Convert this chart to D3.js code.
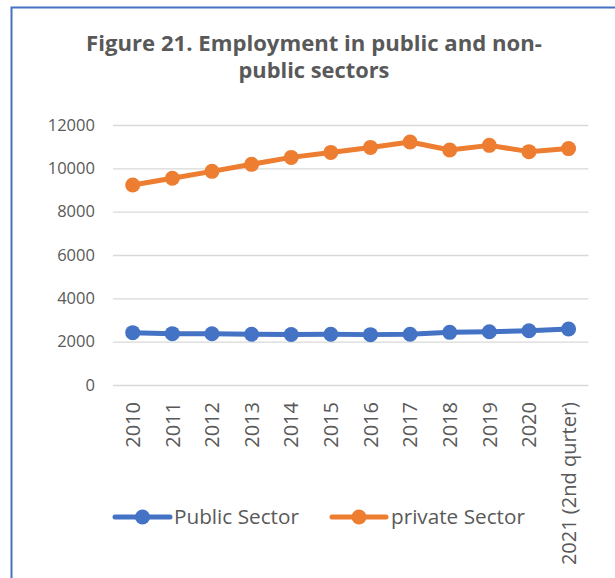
<!DOCTYPE html>
<html>
<head>
<meta charset="utf-8">
<script src="https://cdn.jsdelivr.net/npm/d3@7"></script>
<style>
  html, body { margin: 0; padding: 0; background: #ffffff; }
  svg { display: block; }
  text { font-family: "Open Sans", "Liberation Sans", sans-serif; }
</style>
</head>
<body>
<svg id="chart" width="615" height="578"></svg>
<script>
// Employment (thousands) by sector, 2010 to 2021 Q2
const categories = ["2010", "2011", "2012", "2013", "2014", "2015", "2016", "2017", "2018", "2019", "2020", "2021 (2nd qurter)"];
const publicSector = [2415, 2370, 2365, 2340, 2330, 2340, 2325, 2340, 2430, 2460, 2505, 2585];
const privateSector = [9230, 9540, 9860, 10185, 10505, 10735, 10965, 11215, 10845, 11060, 10770, 10910];
const yTicks = [0, 2000, 4000, 6000, 8000, 10000, 12000];
const titleLines = ["Figure 21. Employment in public and non-", "public sectors"];
const seriesNames = ["Public Sector", "private Sector"];

const colors = { pub: "#4472C4", priv: "#ED7D31", text: "#595959", grid: "#D9D9D9", frame: "#4472C4" };

const svg = d3.select("#chart");

// chart frame (left and top edges visible)
svg.append("path")
  .attr("d", "M11.5,578 L11.5,7.5 L615,7.5")
  .attr("fill", "none")
  .attr("stroke", colors.frame)
  .attr("stroke-width", 2);

// title, two centred lines fitted to width
const titleWidths = [456, 151];
const titleBaselines = [51, 77.5];
titleLines.forEach((line, i) => {
  const t = svg.append("text")
    .attr("x", 314)
    .attr("y", titleBaselines[i])
    .attr("text-anchor", "middle")
    .attr("font-weight", "bold")
    .attr("font-size", 20)
    .attr("fill", colors.text)
    .text(line);
  const w = t.node().getComputedTextLength();
  t.attr("font-size", 20 * titleWidths[i] / w);
});

const plot = { left: 112.9, right: 588.4, top: 125, bottom: 385 };

const x = d3.scaleBand().domain(categories).range([plot.left, plot.right]);
const y = d3.scaleLinear().domain([0, 12000]).range([plot.bottom, plot.top]);

// gridlines + y labels via axis
const yAxis = d3.axisLeft(y).tickValues(yTicks).tickSize(-(plot.right - plot.left)).tickPadding(18).tickFormat(d3.format("d"));
const gy = svg.append("g").attr("transform", `translate(${plot.left},0)`).call(yAxis);
gy.select(".domain").remove();
gy.selectAll(".tick line").attr("stroke", colors.grid).attr("stroke-width", 1.4);
gy.selectAll(".tick text").attr("fill", colors.text).attr("font-size", 16.5).attr("font-family", "Open Sans");

// x labels, rotated
const xAxis = d3.axisBottom(x).tickSize(0).tickPadding(0);
const gx = svg.append("g").attr("transform", `translate(0,${plot.bottom})`).call(xAxis);
gx.select(".domain").remove();
gx.selectAll(".tick text")
  .attr("fill", colors.text)
  .attr("font-size", 20)
  .attr("font-family", "Open Sans")
  .attr("text-anchor", "end")
  .attr("transform", "translate(0,17) rotate(-90)")
  .attr("x", 0)
  .attr("y", 0)
  .attr("dy", "0.36em");

const cx = d => x(d) + x.bandwidth() / 2;
const line = d3.line().x((d, i) => cx(categories[i])).y(d => y(d));

const series = [
  { values: publicSector, color: colors.pub },
  { values: privateSector, color: colors.priv }
];

series.forEach(s => {
  svg.append("path")
    .datum(s.values)
    .attr("d", line)
    .attr("fill", "none")
    .attr("stroke", s.color)
    .attr("stroke-width", 5)
    .attr("stroke-linejoin", "round");
  svg.append("g").selectAll("circle")
    .data(s.values)
    .join("circle")
    .attr("cx", (d, i) => cx(categories[i]))
    .attr("cy", d => y(d))
    .attr("r", 7.5)
    .attr("fill", s.color);
});

// legend
const legendY = 517;
const legendItems = [
  { name: seriesNames[0], color: colors.pub, x0: 115, x1: 170, tx: 174, tw: 125 },
  { name: seriesNames[1], color: colors.priv, x0: 332, x1: 386, tx: 391, tw: 134 }
];
legendItems.forEach(it => {
  const g = svg.append("g");
  g.append("line")
    .attr("x1", it.x0).attr("x2", it.x1)
    .attr("y1", legendY).attr("y2", legendY)
    .attr("stroke", it.color).attr("stroke-width", 5).attr("stroke-linecap", "round");
  g.append("circle")
    .attr("cx", (it.x0 + it.x1) / 2).attr("cy", legendY).attr("r", 7.5)
    .attr("fill", it.color);
  const t = g.append("text")
    .attr("x", it.tx).attr("y", legendY)
    .attr("dy", "0.36em")
    .attr("font-size", 21)
    .attr("fill", colors.text)
    .text(it.name);
  const w = t.node().getComputedTextLength();
  t.attr("font-size", 21 * it.tw / w);
});
</script>
</body>
</html>
